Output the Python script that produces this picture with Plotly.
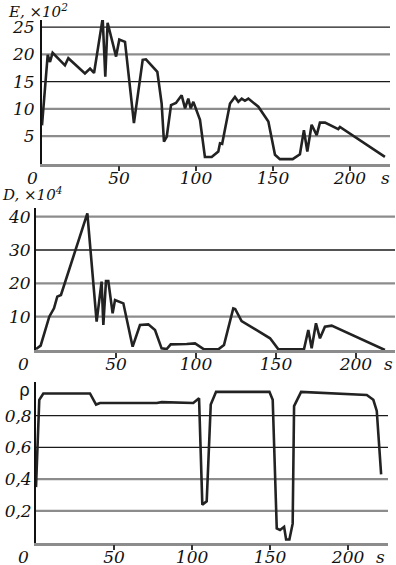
import plotly.graph_objects as go

# ---- data ----
s_E = [0, 3.7, 5.2, 6.9, 14.9, 17.1, 27.9, 31.2, 33.8, 39.4, 41.1, 42.6, 48.1, 50.2, 53.9,
       59.7, 65.4, 67.5, 74.9, 77.7, 79.2, 81.0, 83.8, 87.0, 90.7, 92.9, 95.0, 96.6, 98.3,
       102.6, 105.8, 110.2, 114.5, 115.6, 117.0, 122.1, 125.3, 127.5, 129.7, 131.8, 134.0,
       140.5, 144.8, 147.0, 151.3, 154.5, 162.8, 167.5, 170.1, 172.3, 175.1, 178.4, 180.5,
       183.8, 192.4, 193.5, 222.7]
E_vals = [7.0, 19.9, 18.6, 20.3, 18.0, 19.3, 16.5, 17.4, 16.6, 26.6, 15.9, 25.8, 19.6, 22.7, 22.3,
          7.4, 19.0, 19.1, 16.8, 11.0, 4.0, 4.9, 10.7, 11.1, 12.5, 10.1, 11.9, 10.1, 11.3,
          8.0, 1.2, 1.2, 2.2, 3.7, 3.6, 11.0, 12.2, 11.3, 11.9, 11.5, 11.9,
          10.4, 8.6, 7.7, 1.6, 0.8, 0.8, 1.7, 6.1, 2.2, 7.1, 5.2, 7.5,
          7.5, 6.3, 6.7, 1.2]

s_D = [0, 2.9, 8.3, 11.25, 13.3, 15.6, 32.1, 37.9, 41.0, 42.1, 43.75, 45.2, 47.9, 49.4, 54.6,
       60.4, 65.0, 70.2, 74.4, 78.5, 81.7, 84.2, 94.2, 99.4, 105.0, 114.0, 117.5, 123.3, 124.5,
       128.5, 146.3, 151.5, 167.5, 170.2, 172.3, 175.0, 177.5, 180.6, 184.8, 218.1]
D_vals = [0.3, 1.3, 10.0, 12.5, 16.0, 16.5, 41.0, 8.5, 20.5, 7.5, 20.7, 20.7, 11.0, 15.0, 14.0,
          1.0, 7.5, 7.7, 6.0, 0.5, 0.3, 1.7, 1.8, 2.0, 0.2, 0.2, 1.5, 12.5, 12.3,
          8.7, 3.5, 0.2, 0.2, 6.0, 0.5, 8.0, 3.5, 7.0, 7.3, 0.0]

s_R = [0, 2.1, 4.7, 34.6, 38.5, 41.0, 77.4, 80.6, 100.8, 104.5, 106.6, 109.4, 112.0, 115.4,
       149.6, 151.7, 154.3, 156.4, 159.0, 160.3, 162.4, 164.5, 165.4, 169.9, 212.0, 216.2,
       218.4, 221.2]
R_vals = [0.35, 0.90, 0.94, 0.94, 0.87, 0.88, 0.88, 0.885, 0.88, 0.91, 0.24, 0.26, 0.87, 0.95,
          0.95, 0.90, 0.09, 0.08, 0.10, 0.02, 0.02, 0.12, 0.86, 0.95, 0.93, 0.90,
          0.83, 0.43]

x_ticks = [50, 100, 150, 200]
E_ticks = [5, 10, 15, 20, 25]
D_ticks = [10, 20, 30, 40]
R_ticks = [0.2, 0.4, 0.6, 0.8]

# grid line tone per tick (dark / light), as seen in the reference
E_grid = ["light", "light", "dark", "light", "dark"]
D_grid = ["light", "light", "dark", "light"]
R_grid = ["light", "light", "dark", "dark"]

W, H = 396, 565
FONT = "DejaVu Serif"
FS = 17
LINE = "#222222"
DARK = "#1a1a1a"
LIGHT = "#8c8c8c"


def px_x(p):
    return p / W


def px_y(p):
    return 1 - p / H


fig = go.Figure()
fig.add_trace(go.Scatter(x=s_E, y=E_vals, mode="lines", line=dict(color=LINE, width=2.6),
                         xaxis="x", yaxis="y", showlegend=False))
fig.add_trace(go.Scatter(x=s_D, y=D_vals, mode="lines", line=dict(color=LINE, width=2.6),
                         xaxis="x2", yaxis="y2", showlegend=False))
fig.add_trace(go.Scatter(x=s_R, y=R_vals, mode="lines", line=dict(color=LINE, width=2.6),
                         xaxis="x3", yaxis="y3", showlegend=False))

tickfont = dict(family=FONT, size=FS, color="#111", style="italic")

panels = [
    # (xaxis name, yaxis name, x domain px, y domain px, x range, y range, yticks, grid, fmt)
    ("xaxis", "yaxis", (42, 390), (163.5, 20), [0, 226], [0, 26.3], E_ticks, E_grid, None),
    ("xaxis2", "yaxis2", (36, 395), (350, 208), [0, 224.4], [0, 42.6], D_ticks, D_grid, None),
    ("xaxis3", "yaxis3", (36, 388), (542.7, 382), [0, 225.6], [0, 1.012], R_ticks, R_grid, ".1f"),
]
s_shift = [-5, -7, -8]
zero_shift = [-10, -13, -13]
y_standoff = [2, 0, -1]

shapes = []
annotations = []
for i, (xa, ya, xd, yd, xr, yr, yt, grid, fmt) in enumerate(panels):
    suffix = "" if i == 0 else str(i + 1)
    fig.layout[xa] = dict(
        domain=[px_x(xd[0]), px_x(xd[1])], range=xr, anchor="y" + suffix,
        tickvals=x_ticks, ticks="outside", ticklen=5, tickwidth=1.5, tickcolor="#333",
        showline=True, linecolor=LIGHT, linewidth=2.5, showgrid=False, zeroline=False,
        tickfont=tickfont, ticklabelstandoff=-8, fixedrange=True, automargin=False,
    )
    ycfg = dict(
        domain=[px_y(yd[0]), px_y(yd[1])], range=yr, anchor="x" + suffix,
        tickvals=yt, ticks="", ticklen=0, showline=True, linecolor="#111", linewidth=1.8,
        showgrid=False, zeroline=False, tickfont=tickfont, ticklabelstandoff=y_standoff[i],
        fixedrange=True, automargin=False,
    )
    if fmt:
        ycfg["tickformat"] = fmt
    fig.layout[ya] = ycfg
    for v, tone in zip(yt, grid):
        shapes.append(dict(type="line", xref=f"x{suffix} domain", yref=f"y{suffix}",
                           x0=0, x1=1, y0=v, y1=v, layer="below",
                           line=dict(color=DARK if tone == "dark" else LIGHT,
                                     width=1.3 if tone == "dark" else 2.3)))
    # "0" label at the origin and "s" label at the end of the axis
    annotations.append(dict(text="0", xref=f"x{suffix}", yref=f"y{suffix}", x=0, y=0,
                            xshift=zero_shift[i], yshift=-2, yanchor="top", showarrow=False,
                            font=tickfont))
    annotations.append(dict(text="s", xref="paper", yref=f"y{suffix}",
                            x=px_x(xd[1]), y=0,
                            xshift=s_shift[i], yshift=-2, yanchor="top", xanchor="center",
                            showarrow=False, font=tickfont))

annotations.append(dict(text="E, ×10<sup>2</sup>", xref="paper", yref="paper",
                        x=px_x(6), y=px_y(-1), xanchor="left", yanchor="top", showarrow=False,
                        font=dict(family=FONT, size=15, color="#111", style="italic")))
annotations.append(dict(text="D, ×10<sup>4</sup>", xref="paper", yref="paper",
                        x=px_x(0), y=px_y(182), xanchor="left", yanchor="top", showarrow=False,
                        font=dict(family=FONT, size=15, color="#111", style="italic")))
annotations.append(dict(text="ρ", xref="paper", yref="paper",
                        x=px_x(24), y=px_y(390), xanchor="center", yanchor="middle",
                        showarrow=False,
                        font=dict(family="DejaVu Sans", size=17, color="#111")))

fig.update_layout(
    template="none",
    width=W, height=H, margin=dict(l=0, r=0, t=0, b=0, pad=0), autosize=False,
    paper_bgcolor="white", plot_bgcolor="white",
    separators=", ", shapes=shapes, annotations=annotations, showlegend=False,
)

fig.write_html("out.html", config={"displayModeBar": False},
               post_script="document.body.style.margin='0';"
                           "document.body.style.overflow='hidden';")
